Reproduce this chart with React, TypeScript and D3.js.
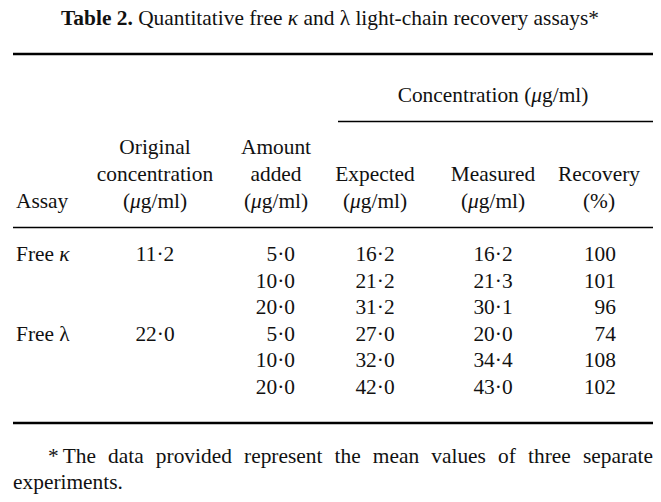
import React, { useEffect, useRef } from "react";
import * as d3 from "d3";

const assayNames = ["κ", "λ"];
const assayItalic = [true, false];
const originalConc = [11.2, 22.0];
const amountAdded = [5.0, 10.0, 20.0, 5.0, 10.0, 20.0];
const expectedConc = [16.2, 21.2, 31.2, 27.0, 32.0, 42.0];
const measuredConc = [16.2, 21.3, 30.1, 20.0, 34.4, 43.0];
const recoveryPct = [100, 101, 96, 74, 108, 102];
const rowsPerAssay = 3;
const footnoteWords = "The data provided represent the mean values of three separate".split(" ");

const W = 661;
const H = 502;
const FONT = "Liberation Serif, DejaVu Serif, serif";
const FS = 21.4;

export default function App() {
  const ref = useRef<SVGSVGElement | null>(null);

  useEffect(() => {
    document.body.style.margin = "0";
    const svg = d3.select(ref.current);
    svg.selectAll("*").remove();
    svg.append("rect").attr("width", W).attr("height", H).attr("fill", "#fff");
    const g = svg.append("g").style("font-family", FONT).style("font-size", FS + "px").attr("fill", "#111");

    const fmt = (v: number) => d3.format(".1f")(v).replace(".", "·");

    // Title
    const title = g.append("text").attr("x", 330).attr("y", 25).attr("text-anchor", "middle");
    title.append("tspan").attr("font-weight", "bold").text("Table 2.");
    title.append("tspan").text(" Quantitative free ");
    title.append("tspan").attr("font-style", "italic").text("κ");
    title.append("tspan").text(" and λ light-chain recovery assays*");

    // Rules
    const rule = (x1: number, x2: number, y: number, w: number) =>
      g.append("line").attr("x1", x1).attr("x2", x2).attr("y1", y).attr("y2", y).attr("stroke", "#000").attr("stroke-width", w);
    rule(13, 653, 54, 2.4);
    rule(338, 653, 121.5, 1.3);
    rule(13, 653, 227.5, 1.3);
    rule(13, 653, 423, 2.4);

    const mu = (t: d3.Selection<SVGTextElement, unknown, null, undefined>, pre: string, post: string) => {
      t.append("tspan").text(pre);
      t.append("tspan").attr("font-style", "italic").text("μ");
      t.append("tspan").text(post);
    };

    // Spanner
    const sp = g.append("text").attr("x", 493).attr("y", 102).attr("text-anchor", "middle");
    mu(sp, "Concentration (", "g/ml)");

    // Header rows
    const hy = d3.scaleLinear().domain([0, 2]).range([154, 207.5]);
    const cols = { assay: 16, orig: 155, added: 276, exp: 375, meas: 493, rec: 599 };
    const hText = (x: number, row: number, s: string, anchor = "middle") =>
      g.append("text").attr("x", x).attr("y", hy(row)).attr("text-anchor", anchor).text(s);
    const hMu = (x: number, row: number) => {
      const t = g.append("text").attr("x", x).attr("y", hy(row)).attr("text-anchor", "middle");
      mu(t, "(", "g/ml)");
    };
    hText(cols.assay, 2, "Assay", "start");
    hText(cols.orig, 0, "Original");
    hText(cols.orig, 1, "concentration");
    hMu(cols.orig, 2);
    hText(cols.added, 0, "Amount");
    hText(cols.added, 1, "added");
    hMu(cols.added, 2);
    hText(cols.exp, 1, "Expected");
    hMu(cols.exp, 2);
    hText(cols.meas, 1, "Measured");
    hMu(cols.meas, 2);
    hText(cols.rec, 1, "Recovery");
    hText(cols.rec, 2, "(%)");

    // Data rows
    const ry = d3.scaleLinear().domain([0, 5]).range([261, 394]);
    assayNames.forEach((name, i) => {
      const t = g.append("text").attr("x", cols.assay).attr("y", ry(i * rowsPerAssay));
      t.append("tspan").text("Free ");
      t.append("tspan").attr("font-style", assayItalic[i] ? "italic" : "normal").text(name);
      g.append("text").attr("x", cols.orig).attr("y", ry(i * rowsPerAssay)).attr("text-anchor", "middle").text(fmt(originalConc[i]));
    });
    amountAdded.forEach((v, i) => {
      g.append("text").attr("x", 295).attr("y", ry(i)).attr("text-anchor", "end").text(fmt(v));
      g.append("text").attr("x", cols.exp).attr("y", ry(i)).attr("text-anchor", "middle").text(fmt(expectedConc[i]));
      g.append("text").attr("x", cols.meas).attr("y", ry(i)).attr("text-anchor", "middle").text(fmt(measuredConc[i]));
      g.append("text").attr("x", 616).attr("y", ry(i)).attr("text-anchor", "end").text(String(recoveryPct[i]));
    });

    // Footnote (justified first line)
    const fx0 = 48;
    const fx1 = 653;
    const star = g.append("text").attr("x", fx0).attr("y", 463).text("*");
    const starW = (star.node() as SVGTextElement).getComputedTextLength();
    const wordNodes = footnoteWords.map((w) => g.append("text").attr("y", 463).text(w));
    const widths = wordNodes.map((n) => (n.node() as SVGTextElement).getComputedTextLength());
    const start = fx0 + starW + 4;
    const total = d3.sum(widths);
    const gap = (fx1 - start - total) / (footnoteWords.length - 1);
    let x = start;
    wordNodes.forEach((n, i) => {
      n.attr("x", x);
      x += widths[i] + gap;
    });
    g.append("text").attr("x", 13).attr("y", 489).text("experiments.");
  }, []);

  return <svg ref={ref} width={W} height={H} style={{ display: "block" }} />;
}
